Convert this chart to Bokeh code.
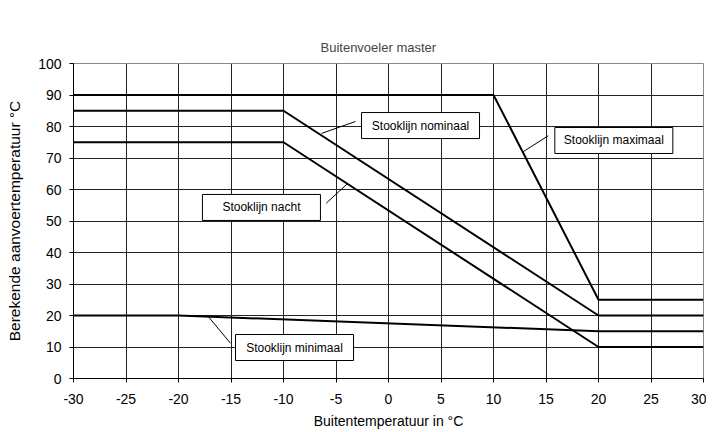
from bokeh.plotting import figure
from bokeh.models import FixedTicker, ColumnDataSource
from bokeh.core.properties import value
from bokeh.embed import file_html
from bokeh.resources import INLINE

# Data
maximaal_x = [-30, 10, 20, 30]
maximaal_y = [90, 90, 25, 25]
nominaal_x = [-30, -10, 20, 30]
nominaal_y = [85, 85, 20, 20]
nacht_x = [-30, -10, 20, 30]
nacht_y = [75, 75, 10, 10]
minimaal_x = [-30, -20, 20, 30]
minimaal_y = [20, 20, 15, 15]

x_ticks = list(range(-30, 31, 5))
y_ticks = list(range(0, 101, 10))

# Annotation labels (data coords)
label_text = ["Stooklijn nominaal", "Stooklijn maximaal", "Stooklijn nacht", "Stooklijn minimaal"]
label_x = [3.05, 21.46, -12.1, -8.95]
label_y = [80.3, 75.56, 54.3, 9.84]
leader_x0 = [-3.14, 15.21, -5.93, -15.05]
leader_y0 = [81.6, 77.05, 55.65, 11.2]
leader_x1 = [-6.38, 12.83, -3.93, -17.17]
leader_y1 = [77.8, 72.0, 61.8, 19.7]

FONT = "Liberation Sans"

p = figure(width=706, height=432, output_backend="svg", toolbar_location=None,
           x_range=(-30, 30), y_range=(0, 100),
           min_border_left=73, min_border_right=3, min_border_top=63, min_border_bottom=54,
           title="Buitenvoeler master")
p.title.align = "left"
p.title.text_font = FONT
p.title.text_font_size = "13px"
p.title.text_font_style = "normal"
p.title.offset = 247
p.title.standoff = 17

p.background_fill_color = "white"
p.border_fill_color = "white"
p.outline_line_color = "#888888"
p.outline_line_width = 1

for ax in (p.xaxis, p.yaxis):
    ax.axis_line_color = "black"
    ax.major_tick_line_color = "black"
    ax.major_tick_out = 4
    ax.major_tick_in = 0
    ax.minor_tick_line_color = None
    ax.major_label_text_font = FONT
    ax.major_label_text_font_size = "14px"
    ax.major_label_text_color = "black"
    ax.axis_label_text_font = FONT
    ax.axis_label_text_font_style = "normal"
    ax.axis_label_text_color = "black"

p.xaxis.axis_label_text_font_size = "14px"
p.yaxis.axis_label_text_font_size = "15.5px"

p.xaxis.ticker = FixedTicker(ticks=x_ticks)
p.yaxis.ticker = FixedTicker(ticks=y_ticks)
p.xaxis.major_label_overrides = {t: str(t) for t in x_ticks}
p.yaxis.major_label_overrides = {t: str(t) for t in y_ticks}
p.xaxis.axis_label = "Buitentemperatuur in °C"
p.yaxis.axis_label = "Berekende aanvoertemperatuur °C"
p.xaxis.major_label_standoff = 11
p.xaxis.axis_label_standoff = 6
p.yaxis.major_label_standoff = 8
p.yaxis.axis_label_standoff = 12

p.xgrid.ticker = FixedTicker(ticks=x_ticks)
p.ygrid.ticker = FixedTicker(ticks=y_ticks)
for g in (p.xgrid, p.ygrid):
    g.grid_line_color = "#222222"
    g.grid_line_width = 1

for xs, ys in ((maximaal_x, maximaal_y), (nominaal_x, nominaal_y),
               (nacht_x, nacht_y), (minimaal_x, minimaal_y)):
    p.line(xs, ys, line_color="black", line_width=2)

p.segment(x0=leader_x0, y0=leader_y0, x1=leader_x1, y1=leader_y1,
          line_color="black", line_width=1)

src = ColumnDataSource(dict(x=label_x, y=label_y, t=label_text))
p.rect(x="x", y="y", width=118, height=26, width_units="screen", height_units="screen",
       source=src, fill_color="white", line_color="black", line_width=1)
p.text(x="x", y="y", text="t", source=src, text_align="center", text_baseline="middle",
       text_font=value(FONT), text_font_size="12px", text_color="black")

open("out.html", "w").write(file_html(p, INLINE))
